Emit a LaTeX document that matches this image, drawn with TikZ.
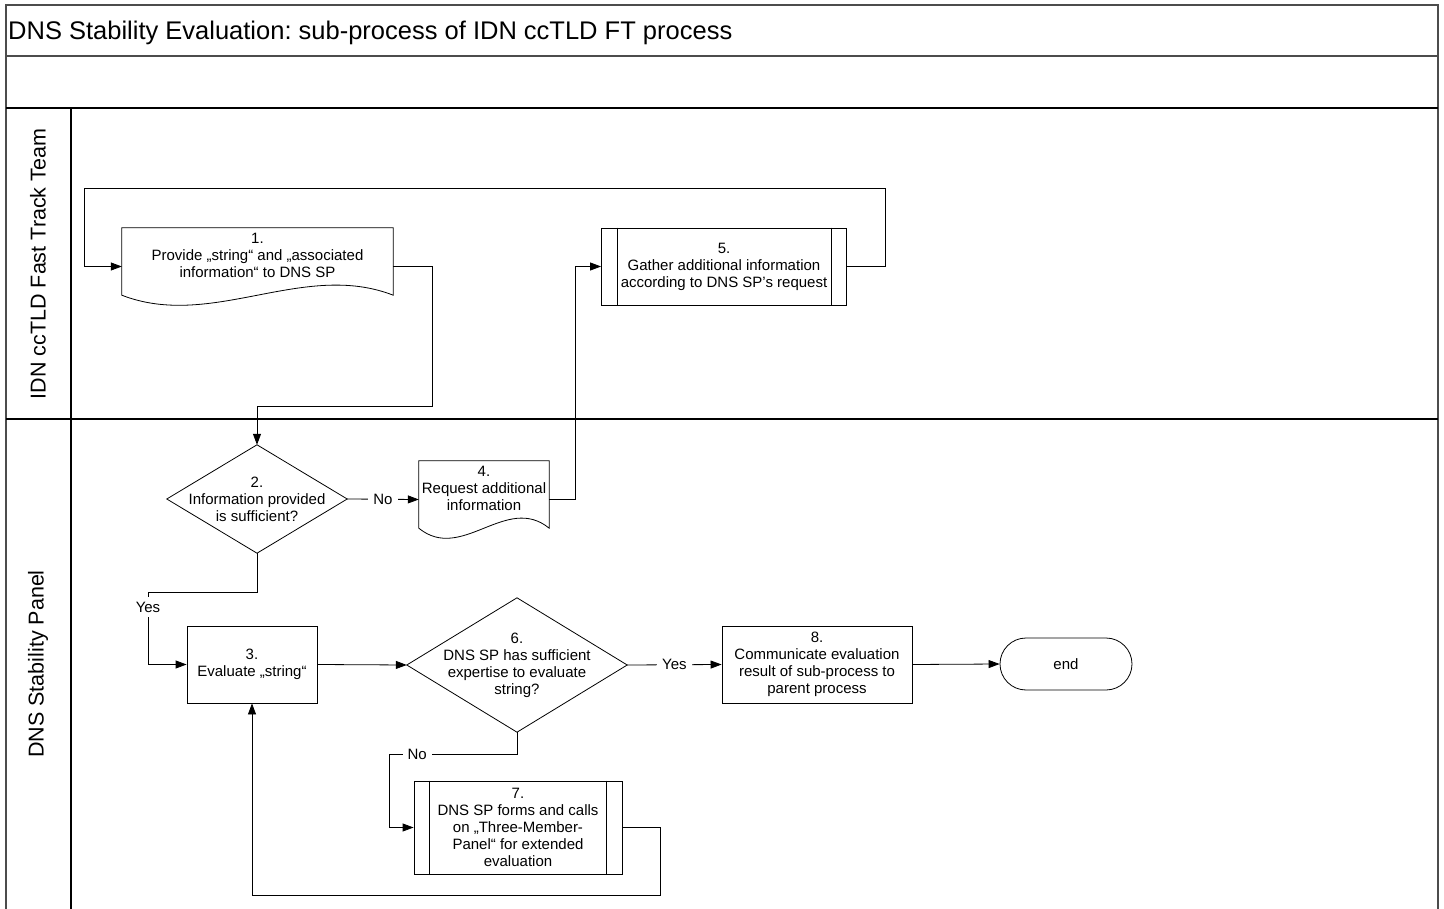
\documentclass[tikz,border=0pt]{standalone}
\usepackage{fontspec}
\setmainfont{Liberation Sans}
\usepackage{tikz}
\usetikzlibrary{positioning,arrows.meta}
\frenchspacing

\begin{document}
\begin{tikzpicture}[x=1pt,y=-1pt]
        \tikzstyle{every node}=[font=\fontsize{15}{17}\selectfont, align=center, inner sep=0pt]
        \tikzstyle{frame}=[line width=1.5pt, black!70]
        \tikzstyle{task}=[draw, line width=0.8pt, minimum height=77pt]
        \tikzstyle{doc}=[minimum height=77pt, text depth=23pt]
        \tikzstyle{ask}=[minimum width=180pt, minimum height=108pt]
        \tikzstyle{flow}=[line width=0.8pt, -{Triangle[length=11pt,width=8pt]}]
        \tikzstyle{lbl}=[fill=white, inner sep=5pt]
        \tikzstyle{lane}=[rotate=90, font=\fontsize{21.5}{26}\selectfont]

        \useasboundingbox (0,0) rectangle (1444,909);

        % pool and lanes
        \draw[frame] (6,909) -- (6,5) -- (1438,5) -- (1438,909);
        \draw[frame] (6,56) -- (1438,56);
        \draw[line width=1.2pt] (6,108) -- (1438,108);
        \draw[line width=1.2pt] (6,419) -- (1438,419);
        \draw[line width=1.2pt] (71,108) -- (71,909);
        \node (title) [anchor=base west, font=\fontsize{25.5}{30}\selectfont] at (8,40) {DNS Stability Evaluation: sub-process of IDN ccTLD FT process};
        \node (ftt) [lane] at (38,264) {IDN ccTLD Fast Track Team};
        \node (dsp) [lane] at (38,664) {DNS Stability Panel};

        % steps
        \node (s1) [doc, minimum width=271pt] at (257.5,266.5) {1.\\Provide „string“ and „associated\\information“ to DNS SP};
        \node (s5) [task, minimum width=245pt] at (724,266.5) {5.\\Gather additional information\\according to DNS SP’s request};
        \node (s2) [ask] at (257,499) {2.\\Information provided\\is sufficient?};
        \node (s4) [doc, minimum width=130pt] at (484,499.5) {4.\\Request additional\\information};
        \node (s3) [task, minimum width=130pt] at (252,664.5) {3.\\Evaluate „string“};
        \node (s6) [ask, minimum width=220pt, minimum height=134pt] at (517,665) {6.\\DNS SP has sufficient\\expertise to evaluate\\string?};
        \node (s8) [task, minimum width=190pt] at (817,664.5) {8.\\Communicate evaluation\\result of sub-process to\\parent process};
        \node (end) [draw, line width=0.8pt, rounded corners=26pt, minimum width=132pt, minimum height=52pt] at (1066,664) {end};
        \node (s7) [task, minimum width=208pt, minimum height=93pt] at (518,827.5) {7.\\DNS SP forms and calls\\on „Three-Member-\\Panel“ for extended\\evaluation};

        % outlines of documents, decisions and sub-processes
        \draw[line width=0.8pt] (s1.north west) -- (s1.north east) -- ([yshift=10pt]s1.south east) .. controls ([xshift=-90pt,yshift=45pt]s1.south east) and ([xshift=90pt,yshift=-25pt]s1.south west) .. ([yshift=10pt]s1.south west) -- cycle;
        \draw[line width=0.8pt] (s4.north west) -- (s4.north east) -- ([yshift=10pt]s4.south east) .. controls ([xshift=-43pt,yshift=45pt]s4.south east) and ([xshift=43pt,yshift=-25pt]s4.south west) .. ([yshift=10pt]s4.south west) -- cycle;
        \draw[line width=0.8pt] (s2.north) -- (s2.east) -- (s2.south) -- (s2.west) -- cycle;
        \draw[line width=0.8pt] (s6.north) -- (s6.east) -- (s6.south) -- (s6.west) -- cycle;
        \draw[line width=0.8pt] ([xshift=16pt]s5.north west) -- ([xshift=16pt]s5.south west);
        \draw[line width=0.8pt] ([xshift=-16pt]s5.north east) -- ([xshift=-16pt]s5.south east);
        \draw[line width=0.8pt] ([xshift=16pt]s7.north west) -- ([xshift=16pt]s7.south west);
        \draw[line width=0.8pt] ([xshift=-16pt]s7.north east) -- ([xshift=-16pt]s7.south east);

        % flows
        \draw[flow] (s1.east) -| (432,406) -| (s2.north);
        \draw[flow] (s2.east) -- node[lbl] {No} (s4.west);
        \draw[flow] (s4.east) -- ++(26,0) |- (s5.west);
        \draw[flow] (s5.east) -- ++(38,0) |- (84,188) |- (s1.west);
        \draw[flow] (s2.south) |- (148,592) |- node[lbl, pos=0.104] {Yes} (s3.west);
        \draw[flow] (s3.east) -- (s6.west);
        \draw[flow] (s6.east) -- node[lbl] {Yes} (s8.west);
        \draw[flow] (s8.east) -- (end.west);
        \draw[flow] (s6.south) |- node[lbl, pos=0.89] {No} (389,754) |- (s7.west);
        \draw[flow] (s7.east) -| (660,895) -| (s3.south);
\end{tikzpicture}
\end{document}
